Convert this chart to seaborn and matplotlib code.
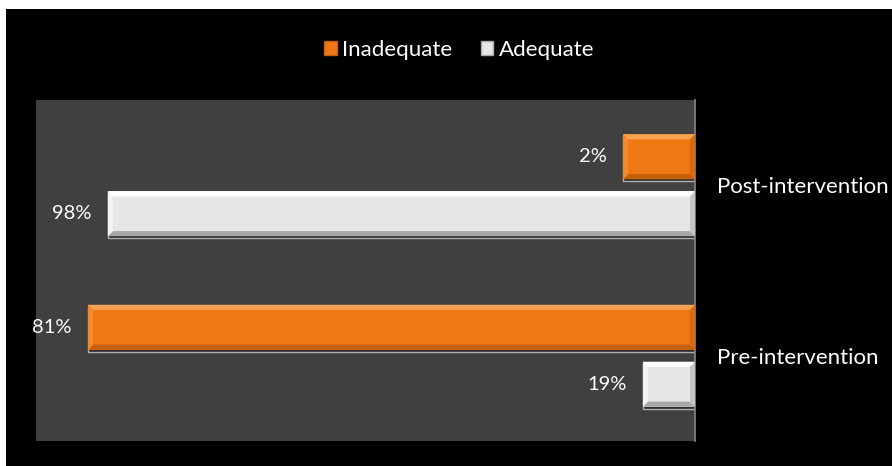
import pandas as pd
import matplotlib.pyplot as plt
import matplotlib.patches as mpatches
from matplotlib.patches import Polygon
import seaborn as sns

# values as drawn (bar length, axis runs 0..100 from the right) and their printed labels
categories = ['Post-intervention', 'Pre-intervention']
statuses = ['Inadequate', 'Adequate']
inadequate_len = [10.9, 92.1]
adequate_len = [89.1, 7.9]
inadequate_txt = ['2%', '81%']
adequate_txt = ['98%', '19%']

ORANGE = '#F07814'
WHITE = '#E6E6E6'
BEVEL = {ORANGE: ('#F8A352', '#C45F0C', '#F48A2C', '#D96A10'),
         WHITE: ('#FFFFFF', '#A8A8A8', '#F4F4F4', '#C4C4C4')}

df = pd.DataFrame({
    'category': categories * 2,
    'status': ['Inadequate'] * 2 + ['Adequate'] * 2,
    'length': inadequate_len + adequate_len,
})
labels = {'Inadequate': inadequate_txt, 'Adequate': adequate_txt}

sns.set_style('white')
plt.rcParams['font.family'] = ['Lato', 'DejaVu Sans']

fig = plt.figure(figsize=(8.92, 4.66), dpi=100, facecolor='white')
W, H = 892, 466
fig.patches.append(mpatches.Rectangle((6 / W, 0), 1, 1 - 9 / H, transform=fig.transFigure,
                                      facecolor='black', edgecolor='none', zorder=-10))
ax = fig.add_axes([36 / W, 25 / H, 659 / W, 341 / H])
ax.set_facecolor('#404040')

sns.barplot(data=df, y='category', x='length', hue='status', orient='h',
            order=categories, hue_order=statuses,
            palette={'Inadequate': ORANGE, 'Adequate': WHITE},
            width=0.668, gap=0.21, saturation=1, legend=False, ax=ax)
ax.set_xlim(100, 0)
ax.set_ylim(1.5, -0.5)

# bevel look on each bar
bx = 0.75   # horizontal bevel depth (data units)
by = 0.03   # vertical bevel depth (data units)
for cont, status in zip(ax.containers, statuses):
    for patch, txt in zip(cont.patches, labels[status]):
        x0, y0 = patch.get_x(), patch.get_y()
        w, h = patch.get_width(), patch.get_height()
        x1, y1 = x0 + w, y0 + h
        face = patch.get_facecolor()
        key = ORANGE if face[0] > face[2] + 0.2 else WHITE
        top, bot, side_l, side_r = BEVEL[key]
        patch.set_edgecolor('none')
        # drop shadow
        ax.add_patch(mpatches.Rectangle((x0, y0 + 0.012), w, h, facecolor='#202020',
                                        alpha=0.6, zorder=patch.get_zorder() - 0.1))
        ax.add_patch(Polygon([(x0, y0), (x1, y0), (x1 - bx, y0 + by), (x0 + bx, y0 + by)],
                             closed=True, facecolor=top, edgecolor='none', zorder=3))
        ax.add_patch(Polygon([(x0, y1), (x1, y1), (x1 - bx, y1 - by), (x0 + bx, y1 - by)],
                             closed=True, facecolor=bot, edgecolor='none', zorder=3))
        ax.add_patch(Polygon([(x1, y0), (x1, y1), (x1 - bx, y1 - by), (x1 - bx, y0 + by)],
                             closed=True, facecolor=side_l, edgecolor='none', zorder=3))
        ax.add_patch(Polygon([(x0, y0), (x0, y1), (x0 + bx, y1 - by), (x0 + bx, y0 + by)],
                             closed=True, facecolor=side_r, edgecolor='none', zorder=3))
        ax.annotate(txt, xy=(x1, y0 + h / 2), xytext=(-12, 0), textcoords='offset points',
                    ha='right', va='center', color='white', fontsize=14.5)

# category labels on the right, outside the plot
ax.yaxis.tick_right()
ax.tick_params(axis='y', length=0, pad=16, labelsize=16, labelcolor='white')
ax.set_xticks([])
ax.set_xlabel('')
ax.set_ylabel('')
for side in ['top', 'left', 'bottom']:
    ax.spines[side].set_visible(False)
ax.spines['right'].set_color('#888888')
ax.spines['right'].set_linewidth(1.2)

handles = [mpatches.Patch(facecolor=ORANGE, edgecolor='#C45F0C', label='Inadequate'),
           mpatches.Patch(facecolor=WHITE, edgecolor='#A8A8A8', label='Adequate')]
fig.legend(handles=handles, loc='center', bbox_to_anchor=(0.515, 1 - 50 / H), ncol=2,
           frameon=False, fontsize=16, labelcolor='white', handlelength=0.55, handleheight=0.55,
           handletextpad=0.25, columnspacing=1.3)

fig.savefig('out.png', dpi=100, facecolor='white')
